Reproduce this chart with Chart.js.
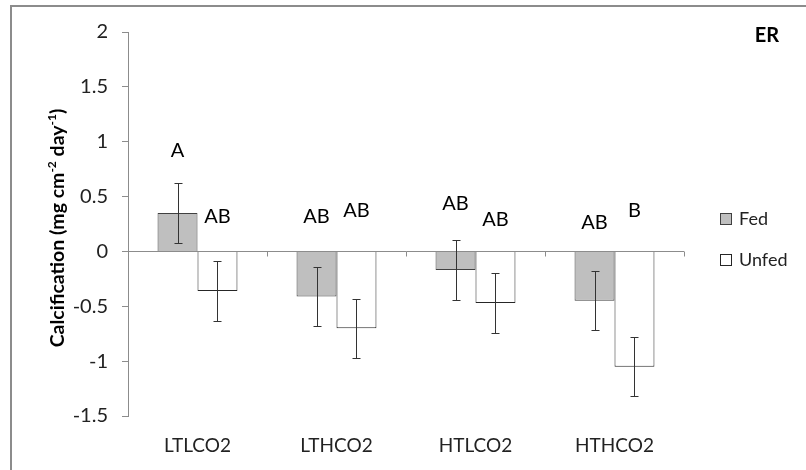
<!DOCTYPE html>
<html>
<head>
<meta charset="utf-8">
<script src="https://cdn.jsdelivr.net/npm/chart.js@4.4.1/dist/chart.umd.min.js"></script>
<style>
  html, body { margin: 0; background: #fff; }
</style>
</head>
<body>
<canvas id="chart" width="806" height="470"></canvas>
<script>
// values (mg cm-2 day-1)
const categories = ['LTLCO2', 'LTHCO2', 'HTLCO2', 'HTHCO2'];
const fed = [0.35, -0.41, -0.17, -0.45];
const unfed = [-0.36, -0.70, -0.47, -1.05];
const fedErr = [0.27, 0.27, 0.27, 0.27];
const unfedErr = [0.27, 0.27, 0.27, 0.27];
// significance letters and the value height they sit at
const fedLetters = ['A', 'AB', 'AB', 'AB'];
const unfedLetters = ['AB', 'AB', 'AB', 'B'];
const fedLetterAt = [0.92, 0.32, 0.44, 0.26];
const unfedLetterAt = [0.32, 0.37, 0.29, 0.37];
const yTicks = [-1.5, -1, -0.5, 0, 0.5, 1, 1.5, 2];

const FONT = 'Lato, "Open Sans", sans-serif';
const AXIS_GREY = '#8c8c8c';
const TEXT = '#222';

const extras = {
  id: 'extras',
  beforeDraw(chart) {
    const ctx = chart.ctx;
    ctx.save();
    ctx.fillStyle = '#fff';
    ctx.fillRect(0, 0, chart.width, chart.height);
    // outer frame, cut off at right and bottom like the original
    ctx.strokeStyle = AXIS_GREY;
    ctx.lineWidth = 2;
    ctx.strokeRect(11, 6, chart.width + 20, chart.height + 20);
    ctx.restore();
  },
  afterDatasetsDraw(chart) {
    const ctx = chart.ctx;
    const x = chart.scales.x, y = chart.scales.y;
    ctx.save();

    // small ticks on the zero line between categories
    const half = (x.getPixelForTick(1) - x.getPixelForTick(0)) / 2;
    const y0 = Math.round(y.getPixelForValue(0)) + 0.5;
    ctx.strokeStyle = AXIS_GREY;
    ctx.lineWidth = 1;
    categories.forEach((c, i) => {
      const px = Math.round(x.getPixelForTick(i) + half) + 0.5;
      ctx.beginPath();
      ctx.moveTo(px, y0);
      ctx.lineTo(px, y0 + 5);
      ctx.stroke();
    });

    // error bars
    const errs = [fedErr, unfedErr];
    ctx.strokeStyle = '#333';
    chart.data.datasets.forEach((ds, d) => {
      chart.getDatasetMeta(d).data.forEach((bar, i) => {
        const v = ds.data[i], e = errs[d][i];
        const bx = Math.round(bar.x) + 0.5;
        const top = Math.round(y.getPixelForValue(v + e)) + 0.5;
        const bot = Math.round(y.getPixelForValue(v - e)) + 0.5;
        ctx.beginPath();
        ctx.moveTo(bx, top); ctx.lineTo(bx, bot);
        ctx.moveTo(bx - 4, top); ctx.lineTo(bx + 4, top);
        ctx.moveTo(bx - 4, bot); ctx.lineTo(bx + 4, bot);
        ctx.stroke();
      });
    });

    // letters
    const letters = [fedLetters, unfedLetters];
    const letterAt = [fedLetterAt, unfedLetterAt];
    ctx.fillStyle = '#000';
    ctx.font = '20px ' + FONT;
    ctx.textAlign = 'center';
    ctx.textBaseline = 'middle';
    chart.data.datasets.forEach((ds, d) => {
      chart.getDatasetMeta(d).data.forEach((bar, i) => {
        ctx.fillText(letters[d][i], bar.x, y.getPixelForValue(letterAt[d][i]));
      });
    });
    ctx.restore();
  },
  afterDraw(chart) {
    const ctx = chart.ctx;
    ctx.save();

    // legend
    ctx.font = '18px ' + FONT;
    ctx.textBaseline = 'middle';
    ctx.textAlign = 'left';
    chart.data.datasets.forEach((ds, d) => {
      const ly = 219 + d * 41;
      ctx.fillStyle = ds.backgroundColor;
      ctx.fillRect(720.5, ly - 5.5, 11, 11);
      ctx.strokeStyle = ds.borderColor;
      ctx.lineWidth = 1;
      ctx.strokeRect(720.5, ly - 5.5, 11, 11);
      ctx.fillStyle = TEXT;
      ctx.fillText(ds.label, 739, ly);
    });

    // panel tag
    ctx.font = 'bold 20px ' + FONT;
    ctx.fillStyle = '#000';
    ctx.textAlign = 'center';
    ctx.fillText('ER', 767, 36);

    // y axis title with superscripts
    const parts = [['Calcification (mg cm', false], ['-2', true], [' day', false], ['-1', true], [')', false]];
    const big = 'bold 19.5px ' + FONT, small = 'bold 12px ' + FONT;
    let total = 0;
    parts.forEach(p => { ctx.font = p[1] ? small : big; total += ctx.measureText(p[0]).width; });
    ctx.translate(57, 228);
    ctx.rotate(-Math.PI / 2);
    ctx.textAlign = 'left';
    ctx.textBaseline = 'alphabetic';
    ctx.fillStyle = '#000';
    let cx = -total / 2;
    parts.forEach(p => {
      ctx.font = p[1] ? small : big;
      ctx.fillText(p[0], cx, p[1] ? -1 : 7);
      cx += ctx.measureText(p[0]).width;
    });
    ctx.restore();
  }
};

new Chart(document.getElementById('chart'), {
  type: 'bar',
  data: {
    labels: categories,
    datasets: [
      { label: 'Fed', data: fed, backgroundColor: '#bfbfbf', borderColor: '#404040', borderWidth: 1,
        categoryPercentage: 0.575, barPercentage: 1 },
      { label: 'Unfed', data: unfed, backgroundColor: '#ffffff', borderColor: '#262626', borderWidth: 1,
        categoryPercentage: 0.575, barPercentage: 1 }
    ]
  },
  options: {
    responsive: false,
    animation: false,
    layout: { padding: { top: 32, right: 122, left: 0, bottom: 0 } },
    plugins: { legend: { display: false }, tooltip: { enabled: false } },
    scales: {
      x: {
        grid: { display: false, drawTicks: false },
        border: { display: false },
        ticks: { padding: 18, color: TEXT, font: { family: FONT, size: 19 } },
        afterFit(s) { s.height = 54; }
      },
      y: {
        min: -1.5,
        max: 2,
        afterBuildTicks(s) { s.ticks = yTicks.map(v => ({ value: v })); },
        grid: {
          color: c => (c.tick && c.tick.value === 0 ? AXIS_GREY : 'rgba(0,0,0,0)'),
          tickColor: AXIS_GREY,
          tickLength: 6
        },
        border: { color: AXIS_GREY },
        ticks: { padding: 14, color: TEXT, font: { family: FONT, size: 20 }, callback: v => String(v) },
        afterFit(s) { s.width = 128; }
      }
    }
  },
  plugins: [extras]
});
</script>
</body>
</html>
